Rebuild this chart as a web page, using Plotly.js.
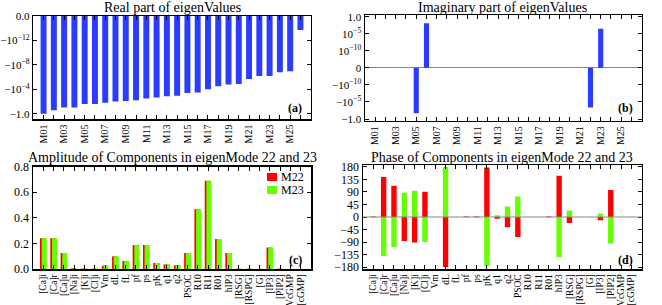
<!DOCTYPE html>
<html><head><meta charset="utf-8">
<script src="https://cdn.plot.ly/plotly-3.0.1.min.js"></script>
<style>html,body{margin:0;padding:0;background:#fff;}#chart{width:662px;height:305px;}</style>
</head><body><div id="chart"></div>
<script>
const modes = ["M01","M02","M03","M04","M05","M06","M07","M08","M09","M10","M11","M12","M13","M14","M15","M16","M17","M18","M19","M20","M21","M22","M23","M24","M25","M26"];
const modeTickLabels = ["M01","M03","M05","M07","M09","M11","M13","M15","M17","M19","M21","M23","M25"];
const realPart = [-1.0,-2.6e-1,-9e-2,-9e-2,-2.4e-2,-2.4e-2,-1.6e-2,-1.0e-2,-8e-3,-6.3e-3,-3.2e-3,-2.2e-3,-1.3e-3,-1.1e-3,-4e-4,-3.2e-4,-1e-4,-3.2e-5,-1.6e-5,-1.3e-5,-2e-6,-6.3e-7,-6.3e-7,-1.6e-7,-1.1e-7,-2e-14];
const imagPart = [0,0,0,0,-2e-2,1.2e-2,0,0,0,0,0,0,0,0,0,0,0,0,0,0,0,-4e-4,3e-4,0,0,0];
const components = ["[Ca]i","[Ca]r","[Ca]u","[Na]i","[K]i","[Cl]i","Vm","dL","fL","pf","ps","pK","q1","q2","PSOC","R10","R11","R01","hIP3","[RSG]","[RSPG]","[G]","[IP3]","[PIP2]","VcGMP","[cGMP]"];
const ampM22 = [0.24,0.24,0.125,0.005,0.003,0.003,0.026,0.099,0.063,0.188,0.188,0.047,0.036,0.029,0.125,0.466,0.688,0.235,0.125,0.002,0.002,0.001,0.167,0.003,0,0];
const ampM23 = [0.24,0.24,0.125,0.005,0.003,0.003,0.026,0.099,0.063,0.188,0.188,0.047,0.036,0.029,0.125,0.466,0.688,0.235,0.125,0.002,0.002,0.001,0.167,0.003,0,0];
const phaseM22 = [1.5,144,112,-86,-92,91,0,-180,0,1.5,1.5,178,-6,-37,-72,0,0,1.5,148,-22,0,0,-12,97,0,0];
const phaseM23 = [-1.5,-140,-108,87,94,-90,1,180,-1,-1.5,-1.5,-176,6,38,74,1,1,-1.5,-144,23,1,1,13,-95,1,1];
const seriesNames = ["M22","M23"];
const realTickVals = [0,-4,-8,-12,-16];
const realTickText = ["0.0","\u221210<sup>\u221212</sup>","\u221210<sup>\u22128</sup>","\u221210<sup>\u22124</sup>","\u22121.0"];
const imagTickVals = [15,10,5,0,-5,-10,-15];
const imagTickText = ["1.0","10<sup>\u22125</sup>","10<sup>\u221210</sup>","0","\u221210<sup>\u221210</sup>","\u221210<sup>\u22125</sup>","\u22121.0"];
const ampTicks = [0,0.2,0.4,0.6,0.8];
const phaseTicks = [180,135,90,45,0,-45,-90,-135,-180];

// symmetric-log mappings used by the original figure
const realY = realPart.map(v => -(Math.log10(Math.abs(v)) + 16));
const imagY = imagPart.map(v => v === 0 ? 0 : Math.sign(v) * (Math.log10(Math.abs(v)) + 15));
const modeIdx = modes.map((m, i) => i);
const modeTickVals = modeTickLabels.map(l => modes.indexOf(l));
const compIdx = components.map((c, i) => i);

const FONT = 'Liberation Serif';
const BLUE = '#2a3cff', RED = '#ff0000', GREEN = '#66ff00';

const traces = [
  {type:'bar', x:modeIdx, y:realY, xaxis:'x', yaxis:'y', marker:{color:BLUE}, width:0.58, showlegend:false, hoverinfo:'skip'},
  {type:'bar', x:modeIdx, y:imagY, xaxis:'x2', yaxis:'y2', marker:{color:BLUE}, width:0.5, showlegend:false, hoverinfo:'skip'},
  {type:'bar', name:seriesNames[0], x:compIdx, y:ampM22, xaxis:'x3', yaxis:'y3', marker:{color:RED}, width:0.5, offset:-0.32, showlegend:false, hoverinfo:'skip'},
  {type:'bar', name:seriesNames[1], x:compIdx, y:ampM23, xaxis:'x3', yaxis:'y3', marker:{color:GREEN}, width:0.5, offset:-0.16, showlegend:false, hoverinfo:'skip'},
  {type:'bar', name:seriesNames[0], x:compIdx, y:phaseM22, xaxis:'x4', yaxis:'y4', marker:{color:RED}, width:0.52, offset:-0.26, showlegend:false, hoverinfo:'skip'},
  {type:'bar', name:seriesNames[1], x:compIdx, y:phaseM23, xaxis:'x4', yaxis:'y4', marker:{color:GREEN}, width:0.52, offset:-0.26, showlegend:false, hoverinfo:'skip'}
];

const base = {showline:true, linecolor:'#000', linewidth:1.5, mirror:'allticks', ticks:'inside', ticklen:4, tickwidth:1, tickcolor:'#000', showgrid:false, zeroline:false, fixedrange:true, tickfont:{family:FONT, size:12, color:'#000'}};
const xfont = {family:FONT, size:9.5, color:'#000'};
function xaComp(dom, anchor){
  return Object.assign({}, base, {domain:dom, anchor:anchor, type:'linear', range:[-1,26], tickmode:'array', tickvals:compIdx, ticktext:components, tickangle:-90, tickfont:xfont});
}
function xaMode(dom, anchor){
  return Object.assign({}, base, {domain:dom, anchor:anchor, type:'linear', range:[-1,26], tickmode:'array', tickvals:modeTickVals, ticktext:modeTickLabels, tickangle:-90, tickfont:{family:FONT, size:10, color:'#000'},
    minor:{tickmode:'linear', tick0:0, dtick:1, ticks:'inside', ticklen:4, tickwidth:1, tickcolor:'#000', showgrid:false}});
}
const px = v => v/662, py = v => (305 - v)/305;
const tickSmall = {family:FONT, size:11, color:'#000'};

const layout = {
  width:662, height:305, margin:{l:0,r:0,t:0,b:0}, paper_bgcolor:'#fff', plot_bgcolor:'#fff',
  barmode:'overlay', font:{family:FONT, color:'#000'}, showlegend:false,
  xaxis: xaMode([px(33.3), px(310.7)], 'y'),
  yaxis: Object.assign({}, base, {domain:[py(119), py(16)], anchor:'x', range:[-16.85, 0], tickmode:'array', tickvals:realTickVals, ticktext:realTickText, tickfont:tickSmall}),
  xaxis2: xaMode([px(365), px(641.7)], 'y2'),
  yaxis2: Object.assign({}, base, {domain:[py(120.7), py(15)], anchor:'x2', range:[-15.5, 15.5], tickmode:'array', tickvals:imagTickVals, ticktext:imagTickText, tickfont:tickSmall, zeroline:true, zerolinecolor:'#888', zerolinewidth:1}),
  xaxis3: xaComp([px(33), px(311)], 'y3'),
  yaxis3: Object.assign({}, base, {domain:[py(269), py(166.5)], anchor:'x3', range:[0, 0.8], tickmode:'array', tickvals:ampTicks, ticktext:ampTicks.map(v => v.toFixed(1))}),
  xaxis4: xaComp([px(363), px(641.7)], 'y4'),
  yaxis4: Object.assign({}, base, {domain:[py(269), py(165)], anchor:'x4', range:[-187, 187], tickmode:'array', tickvals:phaseTicks, ticktext:phaseTicks.map(v => v < 0 ? '\u2212' + (-v) : String(v))}),
  shapes:[
    {type:'line', xref:'x4', yref:'y4', x0:-1, x1:26, y0:0, y1:0, line:{color:'#888', width:1}, layer:'above'},
    {type:'rect', xref:'paper', yref:'paper', x0:px(267), x1:px(277), y0:py(181), y1:py(173), fillcolor:RED, line:{width:0}},
    {type:'rect', xref:'paper', yref:'paper', x0:px(267), x1:px(277), y0:py(194), y1:py(186), fillcolor:GREEN, line:{width:0}}
  ],
  annotations:[
    {text:'Real part of eigenValues', xref:'paper', yref:'paper', x:px(172), y:py(7), xanchor:'center', yanchor:'middle', showarrow:false, font:{family:FONT, size:14}},
    {text:'Imaginary part of eigenValues', xref:'paper', yref:'paper', x:px(503), y:py(7), xanchor:'center', yanchor:'middle', showarrow:false, font:{family:FONT, size:14}},
    {text:'Amplitude of Components in eigenMode 22 and 23', xref:'paper', yref:'paper', x:px(172), y:py(157), xanchor:'center', yanchor:'middle', showarrow:false, font:{family:FONT, size:14}},
    {text:'Phase of Components in eigenMode 22 and 23', xref:'paper', yref:'paper', x:px(502), y:py(157), xanchor:'center', yanchor:'middle', showarrow:false, font:{family:FONT, size:14}},
    {text:'<b>(a)</b>', xref:'paper', yref:'paper', x:px(295), y:py(108), xanchor:'center', yanchor:'middle', showarrow:false, font:{family:FONT, size:12}},
    {text:'<b>(b)</b>', xref:'paper', yref:'paper', x:px(625), y:py(108), xanchor:'center', yanchor:'middle', showarrow:false, font:{family:FONT, size:12}},
    {text:'<b>(c)</b>', xref:'paper', yref:'paper', x:px(295), y:py(260), xanchor:'center', yanchor:'middle', showarrow:false, font:{family:FONT, size:12}},
    {text:'<b>(d)</b>', xref:'paper', yref:'paper', x:px(625), y:py(260), xanchor:'center', yanchor:'middle', showarrow:false, font:{family:FONT, size:12}},
    {text:seriesNames[0], xref:'paper', yref:'paper', x:px(279), y:py(177), xanchor:'left', yanchor:'middle', showarrow:false, font:{family:FONT, size:12}},
    {text:seriesNames[1], xref:'paper', yref:'paper', x:px(279), y:py(190), xanchor:'left', yanchor:'middle', showarrow:false, font:{family:FONT, size:12}}
  ]
};

Plotly.newPlot('chart', traces, layout, {displayModeBar:false, staticPlot:true});
</script>
</body></html>
